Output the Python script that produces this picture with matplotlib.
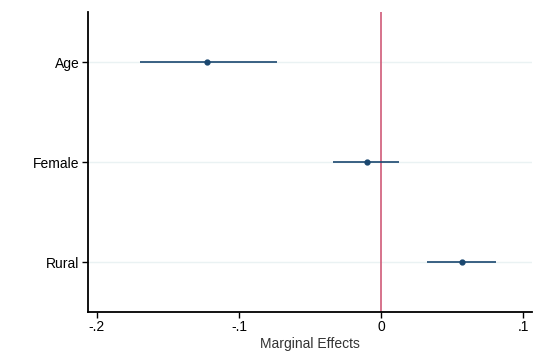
import numpy as np
import matplotlib.pyplot as plt

plt.rcParams['font.family'] = ['Liberation Sans', 'DejaVu Sans']

# marginal effects with 95% CI
labels = ['Age', 'Female', 'Rural']
effects = [-0.1225, -0.0099, 0.0570]
ci_low = [-0.1697, -0.0338, 0.0324]
ci_high = [-0.0732, 0.0127, 0.0810]
xticks = [-0.2, -0.1, 0.0, 0.1]
xticklabels = ['-.2', '-.1', '0', '.1']

fig = plt.figure(figsize=(5.35, 3.58), dpi=100)
ax = fig.add_axes([88 / 535, 46 / 358, 444 / 535, 300 / 358])

pos = np.arange(1, len(labels) + 1)
navy = '#1a476f'

for y in pos:
    ax.axhline(y, color='#eaf2f3', lw=1.0, zorder=0)

ax.hlines(pos, ci_low, ci_high, color=navy, lw=1.2, zorder=2)
ax.plot(effects, pos, 'o', color=navy, ms=3.5, zorder=3)
ax.axvline(0, color='#d05a78', lw=1.2, zorder=1)

ax.set_xlim(-0.2063, 0.1063)
ax.set_ylim(3.5, 0.5)
ax.set_yticks(pos)
ax.set_yticklabels(labels)
ax.set_xticks(xticks)
ax.set_xticklabels(xticklabels)
ax.tick_params(axis='both', labelsize=10, length=4, width=1.0, pad=2)
ax.set_xlabel('Marginal Effects', fontsize=10, color='#333333', labelpad=2)

for s in ['top', 'right']:
    ax.spines[s].set_visible(False)
for s in ['left', 'bottom']:
    ax.spines[s].set_linewidth(1.3)

fig.savefig('out.png', dpi=100)
